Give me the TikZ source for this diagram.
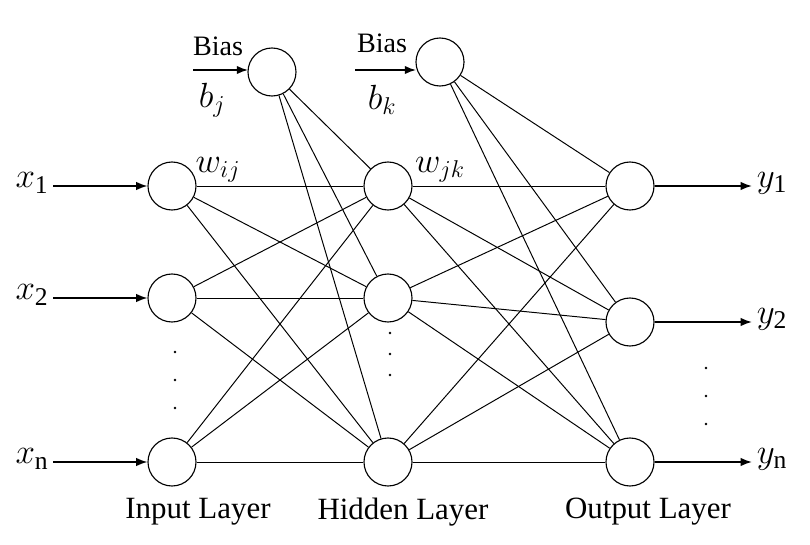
\documentclass[tikz,border=0pt]{standalone}
\usepackage{fontspec}
\setmainfont{Liberation Serif}
\usetikzlibrary{arrows.meta}
\begin{document}
\begin{tikzpicture}[x=0.025cm,y=-0.025cm,
  neu/.style={circle,draw,line width=0.8pt,minimum size=1.2cm,inner sep=0},
  con/.style={line width=0.7pt},
  arr/.style={line width=1.1pt,-{Latex[length=8pt,width=6pt]}},
  lab/.style={font=\fontsize{20}{22}\selectfont},
  big/.style={font=\fontsize{22}{24}\selectfont},
  var/.style={font=\fontsize{26}{28}\selectfont}]
\useasboundingbox (0,0) rectangle (810,545);
\node[neu] (i1) at (172,186) {};
\node[neu] (i2) at (172,298) {};
\node[neu] (i3) at (172,462) {};
\node[neu] (h1) at (388,186) {};
\node[neu] (h2) at (388,298) {};
\node[neu] (h3) at (388,462) {};
\node[neu] (o1) at (630,186) {};
\node[neu] (o2) at (630,322) {};
\node[neu] (o3) at (630,462) {};
\node[neu] (b1) at (272,72) {};
\node[neu] (b2) at (440,62) {};
\foreach \a in {i1,i2,i3,b1}{\foreach \b in {h1,h2,h3}{\draw[con] (\a) -- (\b);}}
\foreach \a in {h1,h2,h3,b2}{\foreach \b in {o1,o2,o3}{\draw[con] (\a) -- (\b);}}
\node[var] (x1) at (32,183) {$x_{\mathrm{1}}$};
\node[var] (x2) at (32,295) {$x_{\mathrm{2}}$};
\node[var] (x3) at (32,459) {$x_{\mathrm{n}}$};
\draw[arr] (x1.east |- i1) -- (i1); \draw[arr] (x2.east |- i2) -- (i2); \draw[arr] (x3.east |- i3) -- (i3);
\node[var] (y1) at (772,183) {$y_{\mathrm{1}}$};
\node[var] (y2) at (772,319) {$y_{\mathrm{2}}$};
\node[var] (y3) at (772,459) {$y_{\mathrm{n}}$};
\draw[arr] (o1) -- (y1.west |- o1); \draw[arr] (o2) -- (y2.west |- o2); \draw[arr] (o3) -- (y3.west |- o3);
\coordinate (s1) at (193,70); \coordinate (s2) at (355,70);
\draw[arr] (s1) -- (248,70); \draw[arr] (s2) -- (416,70);
\node[lab] (bt1) at (218,46) {Bias};
\node[var] (bj) at (212,100) {$b_j$};
\node[lab] (bt2) at (382,43) {Bias};
\node[var] (bk) at (382,100) {$b_k$};
\node[var] (wij) at (218,170) {$w_{ij}$};
\node[var] (wjk) at (440,170) {$w_{jk}$};
\foreach \y in {352,380,408}{\fill (175,\y) circle (1.4);}
\foreach \y in {333,354,375}{\fill (390,\y) circle (1.4);}
\foreach \y in {368,396,424}{\fill (706,\y) circle (1.4);}
\node[big] (l1) at (198,512) {Input Layer};
\node[big] (l2) at (403,512) {Hidden Layer};
\node[big] (l3) at (648,512) {Output Layer};
\end{tikzpicture}
\end{document}
